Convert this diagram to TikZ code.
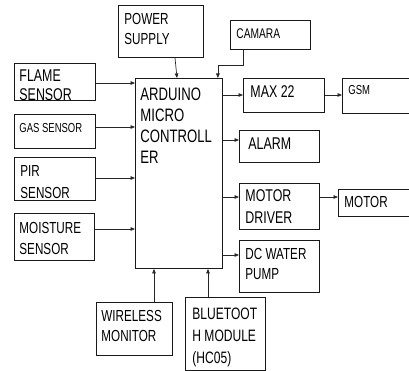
\documentclass[tikz,border=0pt]{standalone}
\usepackage{fontspec}
\setmainfont{Liberation Sans}[FakeStretch=0.73]
\usetikzlibrary{calc,arrows.meta}
\newcommand{\boxtext}[5]{\parbox[c][#2pt][t]{#1pt}{\vspace*{#3pt}\leftskip=#4pt\relax\rightskip=0pt plus 1fil\parindent=0pt\relax #5}}
\tikzset{
  blk/.style={draw=black!90, line width=0.9pt, anchor=north west, inner sep=0pt},
  arr/.style={draw=black!85, line width=0.7pt, -{Triangle[length=4.5pt,width=3.6pt]}},
}
\begin{document}
\begin{tikzpicture}[x={(1pt,0)}, y={(0,-1pt)}]
\useasboundingbox (0,0) rectangle (409,371);
% boxes
\node[blk, font={\fontsize{16}{20}\selectfont}] (power) at (118,5) {\boxtext{85}{52}{8}{6}{POWER\\SUPPLY}};
\node[blk, font={\fontsize{17}{19}\selectfont}] (flame) at (14,63) {\boxtext{81}{37}{6}{5}{FLAME\\SENSOR}};
\node[blk, font={\fontsize{13}{15}\selectfont}] (gas) at (14,114) {\boxtext{81}{34}{9}{5}{GAS SENSOR}};
\node[blk, font={\fontsize{16}{22}\selectfont}] (pir) at (14,157) {\boxtext{81}{43}{8}{6}{PIR\\SENSOR}};
\node[blk, font={\fontsize{16}{21}\selectfont}] (moist) at (14,213) {\boxtext{80}{47}{9}{5}{MOISTURE\\SENSOR}};
\node[blk, font={\fontsize{18}{21}\selectfont}] (ard) at (135,78) {\boxtext{87}{190}{9}{5}{ARDUINO\\MICRO\\CONTROLL\\ER}};
\node[blk, font={\fontsize{14}{16}\selectfont}] (cam) at (230,20) {\boxtext{80}{29}{8}{6}{CAMARA}};
\node[blk, font={\fontsize{17}{19}\selectfont}] (max) at (243,78) {\boxtext{81}{34}{7}{7}{MAX 22}};
\node[blk, font={\fontsize{13}{15}\selectfont}] (gsm) at (342,78) {\boxtext{72}{35}{7}{6}{GSM}};
\node[blk, font={\fontsize{17}{19}\selectfont}] (alarm) at (239,130) {\boxtext{80}{32}{7}{9}{ALARM}};
\node[blk, font={\fontsize{17}{22}\selectfont}] (driver) at (239,183) {\boxtext{80}{46}{6}{6}{MOTOR\\DRIVER}};
\node[blk, font={\fontsize{16}{18}\selectfont}] (motor) at (338,189) {\boxtext{76}{27}{7}{6}{MOTOR}};
\node[blk, font={\fontsize{16}{20}\selectfont}] (pump) at (239,240) {\boxtext{80}{52}{8}{6}{DC WATER\\PUMP}};
\node[blk, font={\fontsize{16}{20}\selectfont}] (wl) at (96,302) {\boxtext{76}{53}{8}{5}{WIRELESS\\MONITOR}};
\node[blk, font={\fontsize{16.5}{22}\selectfont}] (bt) at (185,297) {\boxtext{80}{73}{11}{7}{BLUETOOT\\H MODULE\\(HC05)}};
% inputs
\draw[arr] ($(flame.north east)+(0,20)$) coordinate (f1) -- (f1 -| ard.west);
\draw[arr] ($(gas.north east)+(0,13)$) coordinate (g1) -- (g1 -| ard.west);
\draw[arr] ($(pir.north east)+(0,21)$) coordinate (p1) -- (p1 -| ard.west);
\draw[arr] ($(moist.north east)+(0,16)$) coordinate (m1) -- (m1 -| ard.west);
\draw[arr] ($(power.south west)+(57,0)$) -- ($(ard.north west)+(42,0)$);
\draw[arr] ($(cam.south west)+(13,0)$) -- ++(0,15) -| ($(ard.north east)+(-5,0)$);
\draw[arr] ($(wl.north west)+(58,0)$) coordinate (w1) -- (w1 |- ard.south);
\draw[arr] ($(bt.north west)+(23,0)$) coordinate (b1) -- (b1 |- ard.south);
% outputs
\draw[arr] ($(max.north west)+(0,17)$) coordinate (x1) (x1 -| ard.east) -- (x1);
\draw[arr] ($(max.north east)+(0,17)$) coordinate (x2) -- (x2 -| gsm.west);
\draw[arr] ($(alarm.north west)+(0,10)$) coordinate (a1) (a1 -| ard.east) -- (a1);
\draw[arr] ($(driver.north west)+(0,14)$) coordinate (d1) (d1 -| ard.east) -- (d1);
\draw[arr] ($(driver.north east)+(0,14)$) coordinate (d2) -- (d2 -| motor.west);
\draw[arr] ($(pump.north west)+(0,15)$) coordinate (u1) (u1 -| ard.east) -- (u1);
\end{tikzpicture}
\end{document}
